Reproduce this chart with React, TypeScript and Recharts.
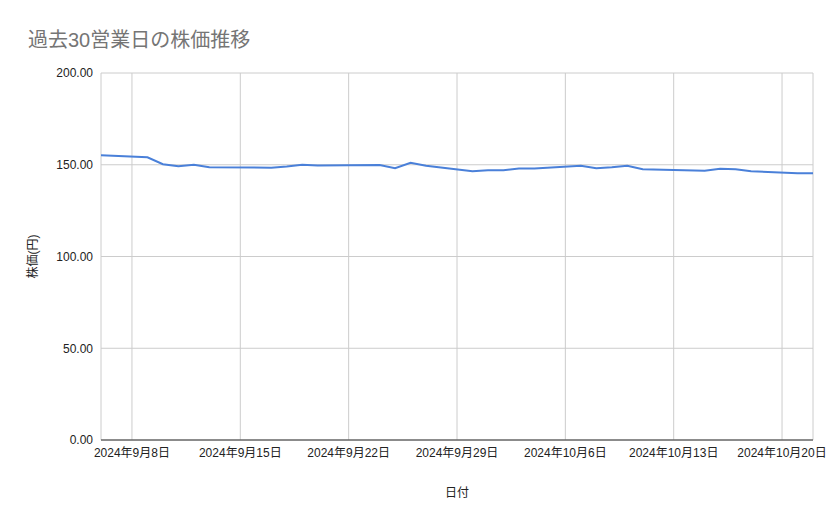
import { LineChart, Line, XAxis, YAxis, CartesianGrid } from "recharts";

const dates = [
  "2024-09-06", "2024-09-09", "2024-09-10", "2024-09-11", "2024-09-12", "2024-09-13",
  "2024-09-17", "2024-09-18", "2024-09-19", "2024-09-20",
  "2024-09-24", "2024-09-25", "2024-09-26", "2024-09-27",
  "2024-09-30", "2024-10-01", "2024-10-02", "2024-10-03", "2024-10-04",
  "2024-10-07", "2024-10-08", "2024-10-09", "2024-10-10", "2024-10-11",
  "2024-10-15", "2024-10-16", "2024-10-17", "2024-10-18",
  "2024-10-21", "2024-10-22",
];

const prices = [
  155.2, 154.1, 150.3, 149.2, 150.0, 148.6,
  148.4, 149.0, 150.0, 149.6,
  149.8, 148.1, 151.1, 149.5,
  146.5, 147.0, 147.0, 147.9, 147.9,
  149.5, 148.1, 148.6, 149.5, 147.5,
  146.7, 147.8, 147.5, 146.5,
  145.4, 145.4,
];

const tickDates = [
  "2024-09-08", "2024-09-15", "2024-09-22", "2024-09-29",
  "2024-10-06", "2024-10-13", "2024-10-20",
];

const yTicks = [0, 50, 100, 150, 200];
const domainDates = ["2024-09-06", "2024-10-22"];

const toTime = (s: string) => {
  const [y, m, d] = s.split("-").map(Number);
  return Date.UTC(y, m - 1, d);
};

const fmtDate = (t: number) => {
  const d = new Date(t);
  return `${d.getUTCFullYear()}年${d.getUTCMonth() + 1}月${d.getUTCDate()}日`;
};

const data = dates.map((d, i) => ({ t: toTime(d), price: prices[i] }));

const font = '"Liberation Sans", Arial, "Noto Sans CJK JP", sans-serif';

const App = () => {
  return (
    <div style={{ position: "absolute", left: 0, top: 0, width: 839, height: 519, background: "#fff" }}>
      <LineChart
        width={839}
        height={519}
        data={data}
        margin={{ top: 73, right: 26, left: 41, bottom: 49 }}
        style={{ fontFamily: font }}
      >
        <text x={28} y={47} fontSize={20} fill="#757575" fontFamily={font}>
          過去30営業日の株価推移
        </text>
        <CartesianGrid stroke="#cccccc" />
        <XAxis
          dataKey="t"
          type="number"
          domain={domainDates.map(toTime)}
          ticks={tickDates.map(toTime)}
          tickFormatter={fmtDate}
          tick={{ fontSize: 12, fill: "#222" }}
          tickLine={false}
          axisLine={{ stroke: "#333" }}
          height={30}
          allowDataOverflow
          interval={0}
          label={{ value: "日付", position: "bottom", offset: 18, fontSize: 12, fill: "#222" }}
        />
        <YAxis
          domain={[0, 200]}
          ticks={yTicks}
          tickFormatter={(v: number) => v.toFixed(2)}
          tick={{ fontSize: 12, fill: "#222" }}
          tickLine={false}
          axisLine={false}
          width={60}
          label={{ value: "株価(円)", angle: -90, position: "insideLeft", offset: -8, fontSize: 12, fill: "#222", style: { textAnchor: "middle" } }}
        />
        <Line
          type="linear"
          dataKey="price"
          stroke="#4a80d9"
          strokeWidth={2}
          dot={false}
          isAnimationActive={false}
        />
      </LineChart>
    </div>
  );
};

export default App;
